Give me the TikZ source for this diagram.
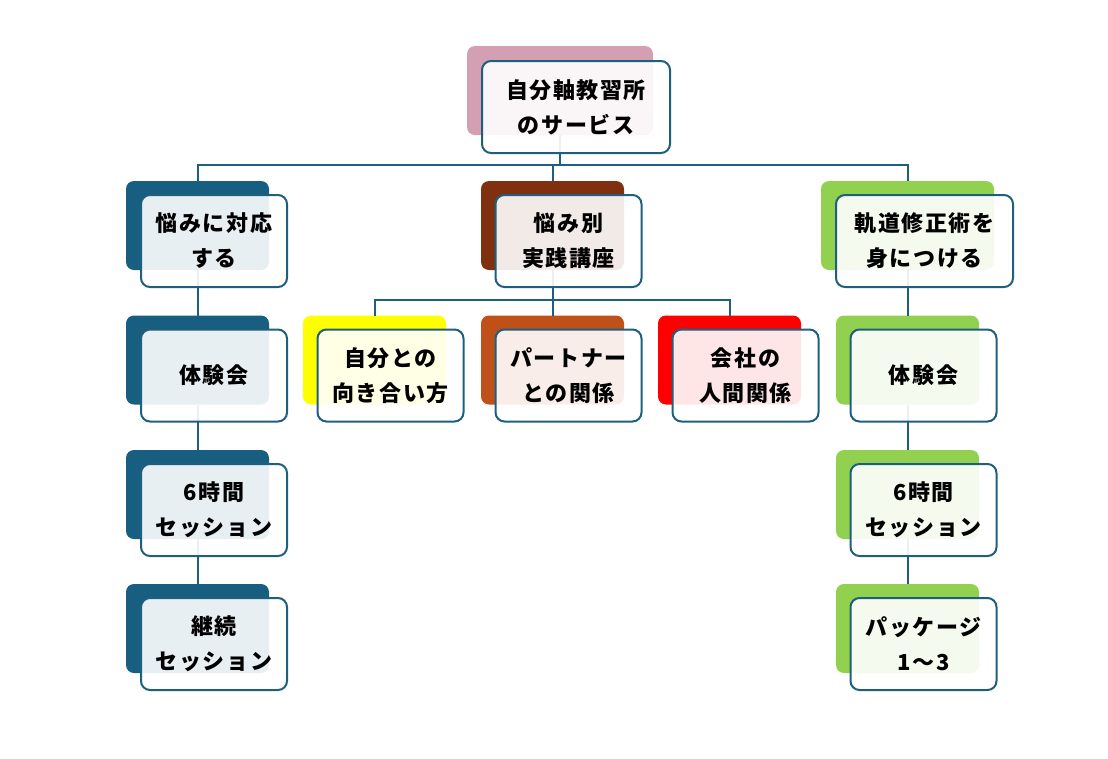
\documentclass[tikz,border=0pt]{standalone}
\usepackage{fontspec}
\newfontfamily\jp[LetterSpace=7]{Noto Sans CJK JP}
\definecolor{lc}{HTML}{1F5F7E}
\definecolor{cRoot}{HTML}{D59FB3}
\definecolor{cTeal}{HTML}{175E80}
\definecolor{cBrown}{HTML}{7F300E}
\definecolor{cYel}{HTML}{FFFF00}
\definecolor{cOra}{HTML}{C0501A}
\definecolor{cRed}{HTML}{FF0000}
\definecolor{cGrn}{HTML}{92D050}
\begin{document}
\begin{tikzpicture}[x=1pt,y=-1pt,
  back/.style={rounded corners=8pt,minimum width=143pt,minimum height=89pt,inner sep=0pt,outer sep=0pt},
  front/.style={draw=lc,line width=2pt,fill=white,fill opacity=0.9,text opacity=1,rounded corners=9pt,
    minimum width=146pt,minimum height=92pt,inner sep=0pt,outer sep=0pt,align=center,
    font=\jp\bfseries\fontsize{22}{35}\selectfont},
  conn/.style={draw=lc,line width=2pt}]
\useasboundingbox (0,0) rectangle (1108,758);
% back rectangles
\node[back,fill=cRoot,minimum width=186pt] (broot) at (560,90.5) {};
\node[back,fill=cTeal] (bL1) at (197.5,225.5) {};
\node[back,fill=cBrown] (bM1) at (552.5,225.5) {};
\node[back,fill=cGrn,minimum width=173pt] (bR1) at (907.5,225.5) {};
\node[back,fill=cTeal] (bL2) at (197.5,360) {};
\node[back,fill=cTeal] (bL3) at (197.5,494.5) {};
\node[back,fill=cTeal] (bL4) at (197.5,628.5) {};
\node[back,fill=cYel] (bY) at (374.5,360) {};
\node[back,fill=cOra] (bO) at (552.5,360) {};
\node[back,fill=cRed] (bRd) at (729.5,360) {};
\node[back,fill=cGrn] (bR2) at (907.5,360) {};
\node[back,fill=cGrn] (bR3) at (907.5,494.5) {};
\node[back,fill=cGrn] (bR4) at (907.5,628.5) {};
% connectors
\coordinate (bus1) at (560,165);
\coordinate (bus2) at (552.5,300);
\draw[conn] (broot.south) -- (bus1) -| (bL1.north);
\draw[conn] (bus1) -| (bR1.north);
\draw[conn] (bus1) -| (bM1.north);
\draw[conn] (bL1.south) -- (bL2.north);
\draw[conn] (bL2.south) -- (bL3.north);
\draw[conn] (bL3.south) -- (bL4.north);
\draw[conn] (bR1.south) -- (bR2.north);
\draw[conn] (bR2.south) -- (bR3.north);
\draw[conn] (bR3.south) -- (bR4.north);
\draw[conn] (bM1.south) -- (bus2) -| (bY.north);
\draw[conn] (bus2) -| (bRd.north);
\draw[conn] (bus2) -- (bO.north);
% front boxes
\node[front,minimum width=188pt] (froot) at (576,107) {自分軸教習所\\のサービス};
\node[front] (fL1) at (214,241) {悩みに対応\\する};
\node[front] (fM1) at (568.5,241) {悩み別\\実践講座};
\node[front,minimum width=177pt] (fR1) at (924.5,241) {軌道修正術を\\身につける};
\node[front] (fL2) at (214,375.5) {体験会};
\node[front] (fL3) at (214,510) {6時間\\セッション};
\node[front] (fL4) at (214,644) {継続\\セッション};
\node[front] (fY) at (390.5,375.5) {自分との\\向き合い方};
\node[front] (fO) at (568.5,375.5) {パートナー\\との関係};
\node[front] (fRd) at (745.5,375.5) {会社の\\人間関係};
\node[front] (fR2) at (923.5,375.5) {体験会};
\node[front] (fR3) at (923.5,510) {6時間\\セッション};
\node[front] (fR4) at (923.5,644) {パッケージ\\1～3};
\end{tikzpicture}
\end{document}
